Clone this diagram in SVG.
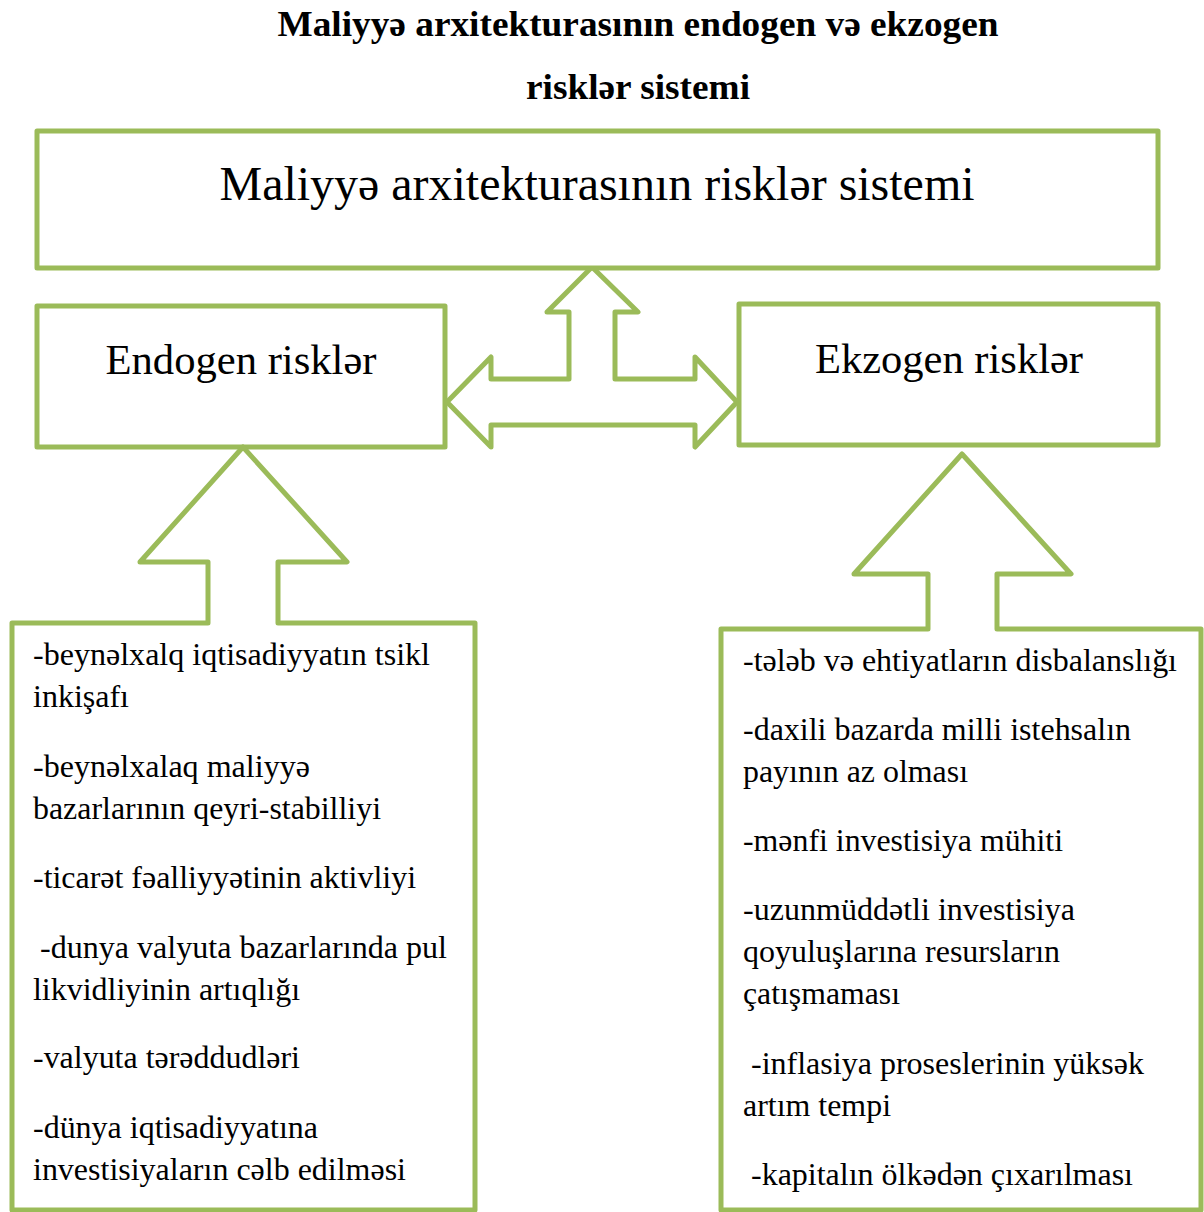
<svg xmlns="http://www.w3.org/2000/svg" width="1204" height="1212" viewBox="0 0 1204 1212">
<style>
.shape{fill:#ffffff;stroke:#9bbb59;stroke-width:5;stroke-linejoin:round}
.title{font-family:"Liberation Serif","Times New Roman",serif;font-weight:bold;font-size:36px;fill:#000;text-anchor:middle}
.big{font-family:"Liberation Serif","Times New Roman",serif;font-size:48px;fill:#000;text-anchor:middle}
.mid{font-family:"Liberation Serif","Times New Roman",serif;font-size:42px;fill:#000;text-anchor:middle}
.item{font-family:"Liberation Serif","Times New Roman",serif;font-size:32px;fill:#000}
</style>
<rect width="1204" height="1212" fill="#ffffff"/>
<g id="title">
<text class="title" x="638" y="36" textLength="721" lengthAdjust="spacingAndGlyphs">Maliyyə arxitekturasının endogen və ekzogen</text>
<text class="title" x="638" y="99" textLength="224" lengthAdjust="spacingAndGlyphs">risklər sistemi</text>
</g>
<g id="connectors">
<path class="shape" d="M592,267 L638,312 L615,312 L615,379 L695,379 L695,357 L737,402 L695,447 L695,425 L491,425 L491,447 L447,402 L491,357 L491,379 L569,379 L569,312 L547,312 Z"/>
</g>
<g id="node-top">
<rect class="shape" x="37" y="131" width="1121" height="137"/>
<text class="big" x="597" y="200" textLength="755" lengthAdjust="spacingAndGlyphs">Maliyyə arxitekturasının risklər sistemi</text>
</g>
<g id="node-endogen">
<rect class="shape" x="37" y="306" width="408" height="141"/>
<text class="mid" x="241" y="374" textLength="271" lengthAdjust="spacingAndGlyphs">Endogen risklər</text>
</g>
<g id="node-ekzogen">
<rect class="shape" x="739" y="304" width="419" height="141"/>
<text class="mid" x="949" y="373" textLength="268" lengthAdjust="spacingAndGlyphs">Ekzogen risklər</text>
</g>
<g id="node-endogen-list">
<path class="shape" d="M208,623 L208,562 L140,562 L243,447 L347,562 L278,562 L278,623 L475,623 L475,1210 L12,1210 L12,623 Z"/>
<text class="item" x="33" y="665" textLength="397" lengthAdjust="spacingAndGlyphs">-beynəlxalq iqtisadiyyatın tsikl</text>
<text class="item" x="33" y="707" textLength="96" lengthAdjust="spacingAndGlyphs">inkişafı</text>
<text class="item" x="33" y="777" textLength="277" lengthAdjust="spacingAndGlyphs">-beynəlxalaq maliyyə</text>
<text class="item" x="33" y="819" textLength="348" lengthAdjust="spacingAndGlyphs">bazarlarının qeyri-stabilliyi</text>
<text class="item" x="33" y="888" textLength="383" lengthAdjust="spacingAndGlyphs">-ticarət fəalliyyətinin aktivliyi</text>
<text class="item" x="40" y="958" textLength="407" lengthAdjust="spacingAndGlyphs">-dunya valyuta bazarlarında pul</text>
<text class="item" x="33" y="1000" textLength="267" lengthAdjust="spacingAndGlyphs">likvidliyinin artıqlığı</text>
<text class="item" x="33" y="1068" textLength="267" lengthAdjust="spacingAndGlyphs">-valyuta tərəddudləri</text>
<text class="item" x="33" y="1138" textLength="285" lengthAdjust="spacingAndGlyphs">-dünya iqtisadiyyatına</text>
<text class="item" x="33" y="1180" textLength="373" lengthAdjust="spacingAndGlyphs">investisiyaların cəlb edilməsi</text>
</g>
<g id="node-ekzogen-list">
<path class="shape" d="M928,629 L928,574 L854,574 L962,454 L1071,574 L997,574 L997,629 L1201,629 L1201,1210 L721,1210 L721,629 Z"/>
<text class="item" x="743" y="671" textLength="434" lengthAdjust="spacingAndGlyphs">-tələb və ehtiyatların disbalanslığı</text>
<text class="item" x="743" y="740" textLength="388" lengthAdjust="spacingAndGlyphs">-daxili bazarda milli istehsalın</text>
<text class="item" x="743" y="782" textLength="225" lengthAdjust="spacingAndGlyphs">payının az olması</text>
<text class="item" x="743" y="851" textLength="320" lengthAdjust="spacingAndGlyphs">-mənfi investisiya mühiti</text>
<text class="item" x="743" y="920" textLength="332" lengthAdjust="spacingAndGlyphs">-uzunmüddətli investisiya</text>
<text class="item" x="743" y="962" textLength="317" lengthAdjust="spacingAndGlyphs">qoyuluşlarına resursların</text>
<text class="item" x="743" y="1004" textLength="157" lengthAdjust="spacingAndGlyphs">çatışmaması</text>
<text class="item" x="751" y="1074" textLength="393" lengthAdjust="spacingAndGlyphs">-inflasiya proseslerinin yüksək</text>
<text class="item" x="743" y="1116" textLength="148" lengthAdjust="spacingAndGlyphs">artım tempi</text>
<text class="item" x="751" y="1185" textLength="382" lengthAdjust="spacingAndGlyphs">-kapitalın ölkədən çıxarılması</text>
</g>
</svg>
